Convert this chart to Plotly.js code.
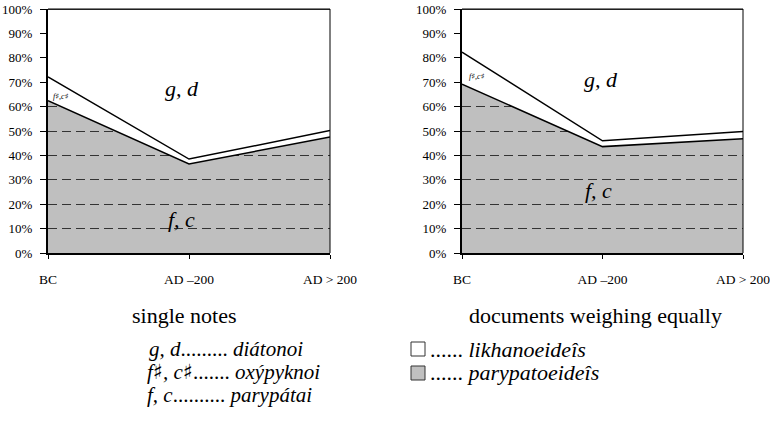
<!DOCTYPE html>
<html>
<head>
<meta charset="utf-8">
<script src="https://cdn.plot.ly/plotly-3.0.1.min.js"></script>
<style>html,body{margin:0;padding:0;background:#fff}#chart{width:770px;height:423px}</style>
</head>
<body>
<div id="chart"></div>
<script>
// Periods (x categories)
const periods = ["BC", "AD –200", "AD > 200"];
const yTickVals = [0,10,20,30,40,50,60,70,80,90,100];
const yTickText = ["0%","10%","20%","30%","40%","50%","60%","70%","80%","90%","100%"];

// single notes (shares, %)
const singleFC   = [62.4, 36.5, 47.5];   // f, c  (parypátai)
const singleFsCs = [9.8, 2.0, 2.7];      // f♯, c♯ (oxýpyknoi)
const singleGD   = [27.8, 61.5, 49.8];   // g, d  (diátonoi)

// documents weighing equally (shares, %)
const docsFC   = [69.2, 43.6, 46.8];
const docsFsCs = [13.1, 2.4, 3.0];
const docsGD   = [17.7, 54.0, 50.2];

const W = 770, H = 423, T = 9, B = 170;
const PH = H - T - B;
const px = (x) => x / W;
const py = (y) => (H - B - y) / PH;

const FONT = "Liberation Serif";
const SH = '<span style="font-family:DejaVu Sans">♯</span>';
const grey = "rgba(0,0,0,0.25)";

function stack(xa, ya, vals, fills, grp) {
  return vals.map((v, i) => ({
    type: "scatter", mode: "lines", x: periods, y: v, xaxis: xa, yaxis: ya,
    stackgroup: grp, fillcolor: fills[i],
    line: {color: "#000", width: 1.5}, hoverinfo: "skip", showlegend: false
  }));
}

const traces = [
  ...stack("x", "y", [singleFC, singleFsCs, singleGD], [grey, "#fff", "#fff"], "a"),
  ...stack("x2", "y2", [docsFC, docsFsCs, docsGD], [grey, "#fff", "#fff"], "b")
];

const xBase = {
  type: "category", range: [0, 2], showgrid: false, zeroline: false,
  showline: true, linecolor: "#000", linewidth: 2,
  ticks: "outside", ticklen: 4, tickcolor: "#000", tickwidth: 1,
  tickfont: {family: FONT, size: 13.5, color: "#000"}, ticklabelstandoff: 9,
  fixedrange: true
};
const yBase = {
  range: [0, 100], tickvals: yTickVals, ticktext: yTickText,
  showgrid: true, gridcolor: "#444", gridwidth: 1, griddash: "9px,5px",
  zeroline: false, showline: true, linecolor: "#000", linewidth: 2,
  ticks: "outside", ticklen: 6, tickcolor: "#000", tickwidth: 1,
  tickfont: {family: FONT, size: 13, color: "#000"}, ticklabelstandoff: 5,
  fixedrange: true
};

const layout = {
  width: W, height: H,
  margin: {l: 0, r: 0, t: T, b: B, pad: 0},
  paper_bgcolor: "#fff", plot_bgcolor: "#fff",
  showlegend: false,
  font: {family: FONT, color: "#000"},
  xaxis:  Object.assign({}, xBase, {domain: [px(48), px(330)], anchor: "y"}),
  yaxis:  Object.assign({}, yBase, {domain: [0, 1], anchor: "x"}),
  xaxis2: Object.assign({}, xBase, {domain: [px(462), px(743)], anchor: "y2"}),
  yaxis2: Object.assign({}, yBase, {domain: [0, 1], anchor: "x2"}),
  shapes: [
    {type: "line", xref: "x domain", yref: "y domain", x0: 0, x1: 1, y0: 1, y1: 1, line: {color: "#000", width: 1}},
    {type: "line", xref: "x domain", yref: "y domain", x0: 1, x1: 1, y0: 0, y1: 1, line: {color: "#000", width: 1}},
    {type: "line", xref: "x2 domain", yref: "y2 domain", x0: 0, x1: 1, y0: 1, y1: 1, line: {color: "#000", width: 1}},
    {type: "line", xref: "x2 domain", yref: "y2 domain", x0: 1, x1: 1, y0: 0, y1: 1, line: {color: "#000", width: 1}},
    {type: "rect", xref: "paper", yref: "paper", x0: px(411), x1: px(425), y0: py(356), y1: py(342), fillcolor: "#fff", line: {color: "#333", width: 1}},
    {type: "rect", xref: "paper", yref: "paper", x0: px(411), x1: px(425), y0: py(380), y1: py(366), fillcolor: "#c0c0c0", line: {color: "#333", width: 1}}
  ],
  annotations: [
    {text: "<i>g, d</i>", x: px(182), y: py(88), font: {size: 22}},
    {text: "<i>f, c</i>", x: px(181), y: py(219), font: {size: 22}},
    {text: "<i>f" + SH + ",c" + SH + "</i>", x: px(61), y: py(96), font: {size: 8}},
    {text: "<i>g, d</i>", x: px(601), y: py(79), font: {size: 22}},
    {text: "<i>f, c</i>", x: px(598), y: py(190), font: {size: 22}},
    {text: "<i>f" + SH + ",c" + SH + "</i>", x: px(477), y: py(76), font: {size: 8}},
    {text: "single notes", x: px(184), y: py(315), font: {size: 22}},
    {text: "documents weighing equally", x: px(595), y: py(315), font: {size: 22}},
    {text: "<i>g, d</i>......... <i>diátonoi</i>", x: px(147), xanchor: "left", y: py(349), font: {size: 21}},
    {text: "<i>f" + SH + ", c" + SH + "</i>....... <i>oxýpyknoi</i>", x: px(145), xanchor: "left", y: py(372), font: {size: 21}},
    {text: "<i>f, c</i>.......... <i>parypátai</i>", x: px(145), xanchor: "left", y: py(395), font: {size: 21}},
    {text: "...... <i>likhanoeideîs</i>", x: px(428), xanchor: "left", y: py(349), font: {size: 22}},
    {text: "...... <i>parypatoeideîs</i>", x: px(428), xanchor: "left", y: py(372), font: {size: 22}}
  ].map(a => Object.assign({xref: "paper", yref: "paper", showarrow: false, xanchor: "center", yanchor: "middle"}, a, {font: Object.assign({family: FONT, color: "#000"}, a.font)}))
};

Plotly.newPlot("chart", traces, layout, {displayModeBar: false, staticPlot: true});
</script>
</body>
</html>
